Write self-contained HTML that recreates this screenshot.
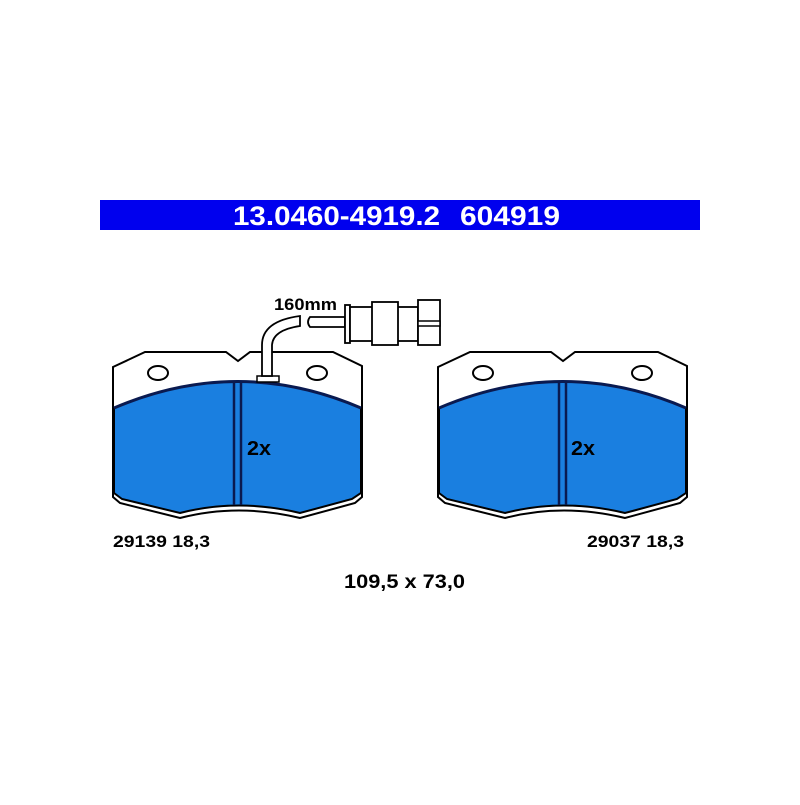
<!DOCTYPE html>
<html><head><style>
body{margin:0;width:800px;height:800px;background:#fff;overflow:hidden}
</style></head><body>
<svg width="800" height="800" viewBox="0 0 800 800" xmlns="http://www.w3.org/2000/svg" font-family="Liberation Sans, sans-serif" font-weight="bold">
<rect x="100" y="200" width="600" height="30" fill="#0000ee"/>
<text x="233" y="225" fill="#fff" font-size="27" font-family="Liberation Sans Narrow, Liberation Sans, sans-serif" textLength="207" lengthAdjust="spacingAndGlyphs">13.0460-4919.2</text>
<text x="460" y="225" fill="#fff" font-size="27" font-family="Liberation Sans Narrow, Liberation Sans, sans-serif" textLength="100" lengthAdjust="spacingAndGlyphs">604919</text>
<defs>
<g id="pad">
<path d="M113,367 L145,352 L226,352 L238,361 L250,352 L333,352 L362,366 L362,497 L355,503 L300,518 Q238,503 180,518 L120,503 L113,497 Z" fill="#fff" stroke="#000" stroke-width="2"/>
<path d="M114,408 Q238,355 361,408 L361,493 L352,499 L300,513 Q238,498 180,513 L122,499 L114,493 Z" fill="#1a7fe0" stroke="#000" stroke-width="2"/>
<path d="M114,408 Q238,355 361,408" fill="none" stroke="#0a1a50" stroke-width="3"/>
<line x1="234" y1="382" x2="234" y2="505" stroke="#0a1a50" stroke-width="2.5"/>
<line x1="241" y1="382" x2="241" y2="505" stroke="#0a1a50" stroke-width="2.5"/>
<ellipse cx="158" cy="373" rx="10" ry="7" fill="#fff" stroke="#000" stroke-width="2"/>
<ellipse cx="317" cy="373" rx="10" ry="7" fill="#fff" stroke="#000" stroke-width="2"/>
</g>
</defs>
<use href="#pad"/>
<use href="#pad" x="325"/>
<text x="247" y="455" font-size="20" fill="#000" textLength="24" lengthAdjust="spacingAndGlyphs">2x</text>
<text x="571" y="455" font-size="20" fill="#000" textLength="24" lengthAdjust="spacingAndGlyphs">2x</text>
<rect x="257" y="376" width="22" height="6" fill="#fff" stroke="#000" stroke-width="1.5"/>
<path d="M262,376 L262,345 Q262,321 300,316 L300,326 Q273,330 272,345 L272,376 Z" fill="#fff" stroke="#000" stroke-width="1.8"/>
<path d="M310,317 L345,317 L345,327 L310,327 Q306,322 310,317 Z" fill="#fff" stroke="#000" stroke-width="1.8"/>
<rect x="345" y="305" width="5" height="38" fill="#fff" stroke="#000" stroke-width="1.8"/>
<rect x="350" y="307" width="68" height="34" fill="#fff" stroke="#000" stroke-width="1.8"/>
<rect x="372" y="302" width="26" height="43" fill="#fff" stroke="#000" stroke-width="1.8"/>
<rect x="418" y="300" width="22" height="45" fill="#fff" stroke="#000" stroke-width="1.8"/>
<rect x="418" y="321" width="22" height="5" fill="#fff" stroke="#000" stroke-width="1.5"/>
<text x="274" y="310" font-size="17" fill="#000" textLength="63" lengthAdjust="spacingAndGlyphs">160mm</text>
<text x="113" y="547" font-size="17" fill="#000" textLength="97" lengthAdjust="spacingAndGlyphs">29139 18,3</text>
<text x="587" y="547" font-size="17" fill="#000" textLength="97" lengthAdjust="spacingAndGlyphs">29037 18,3</text>
<text x="344" y="588" font-size="19" fill="#000" textLength="121" lengthAdjust="spacingAndGlyphs">109,5 x 73,0</text>
</svg>
</body></html>
